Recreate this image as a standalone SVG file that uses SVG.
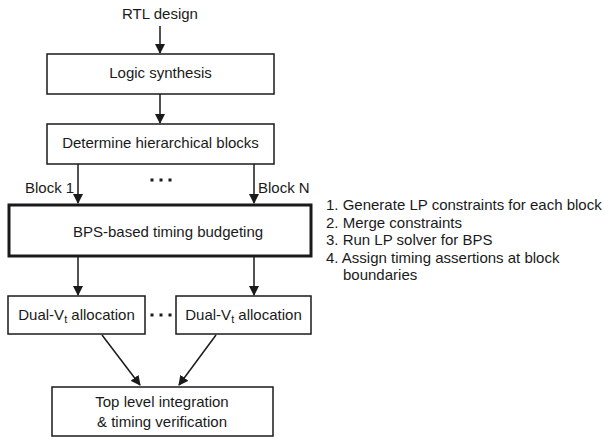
<svg xmlns="http://www.w3.org/2000/svg" width="604" height="439" viewBox="0 0 604 439">
  <style>
    text { font-family: "Liberation Sans", Arial, sans-serif; font-size: 15px; fill: #1a1a1a; }
    .c { text-anchor: middle; }
    .box { fill: #fff; stroke: #1a1a1a; stroke-width: 1.5; }
    .thick { fill: #fff; stroke: #1a1a1a; stroke-width: 3; }
    .edge { stroke: #1a1a1a; stroke-width: 1.5; fill: none; marker-end: url(#ah); }
    .dot { fill: #1a1a1a; }
  </style>
  <defs>
    <marker id="ah" markerWidth="10" markerHeight="10" refX="9" refY="5" orient="auto" markerUnits="userSpaceOnUse">
      <path d="M0,0 L10,5 L0,10 Z" fill="#1a1a1a"/>
    </marker>
  </defs>

  <g id="connectors">
    <line class="edge" x1="160" y1="26" x2="160" y2="53"/>
    <line class="edge" x1="160" y1="94" x2="160" y2="123"/>
    <line class="edge" x1="78" y1="164" x2="78" y2="203"/>
    <line class="edge" x1="254" y1="164" x2="254" y2="203"/>
    <line class="edge" x1="78" y1="256" x2="78" y2="295"/>
    <line class="edge" x1="254" y1="256" x2="254" y2="295"/>
    <line class="edge" x1="102" y1="335" x2="140" y2="385"/>
    <line class="edge" x1="216" y1="335" x2="179" y2="385"/>
  </g>

  <g id="rtl">
    <text class="c" x="160" y="19">RTL design</text>
  </g>

  <g id="logic-synthesis">
    <rect class="box" x="47" y="54" width="227" height="40"/>
    <text class="c" x="160.5" y="78">Logic synthesis</text>
  </g>

  <g id="hier-blocks">
    <rect class="box" x="47" y="124" width="227" height="40"/>
    <text class="c" x="160.5" y="148">Determine hierarchical blocks</text>
  </g>

  <g id="block-labels">
    <text x="25" y="193">Block 1</text>
    <text x="258" y="193">Block N</text>
    <rect class="dot" x="150.5" y="178.5" width="3" height="3"/>
    <rect class="dot" x="159.5" y="178.5" width="3" height="3"/>
    <rect class="dot" x="168.5" y="178.5" width="3" height="3"/>
  </g>

  <g id="bps-budgeting">
    <rect class="thick" x="9" y="205" width="302" height="51"/>
    <text class="c" x="168" y="237">BPS-based timing budgeting</text>
  </g>

  <g id="bps-steps">
    <text x="326" y="210">1. Generate LP constraints for each block</text>
    <text x="326" y="227.5">2. Merge constraints</text>
    <text x="326" y="245">3. Run LP solver for BPS</text>
    <text x="326" y="262.5">4. Assign timing assertions at block</text>
    <text x="343" y="280">boundaries</text>
  </g>

  <g id="dualvt-1">
    <rect class="box" x="8" y="296" width="137" height="38"/>
    <text class="c" x="76.5" y="320">Dual-V<tspan font-size="11" dy="3">t</tspan><tspan dy="-3"> allocation</tspan></text>
  </g>

  <g id="dualvt-dots">
    <rect class="dot" x="150.5" y="313.5" width="3" height="3"/>
    <rect class="dot" x="159.5" y="313.5" width="3" height="3"/>
    <rect class="dot" x="168.5" y="313.5" width="3" height="3"/>
  </g>

  <g id="dualvt-n">
    <rect class="box" x="176" y="296" width="135" height="38"/>
    <text class="c" x="243.5" y="320">Dual-V<tspan font-size="11" dy="3">t</tspan><tspan dy="-3"> allocation</tspan></text>
  </g>

  <g id="top-level">
    <rect class="box" x="52" y="387" width="221" height="49"/>
    <text class="c" x="162" y="407">Top level integration</text>
    <text class="c" x="162" y="427">&amp; timing verification</text>
  </g>
</svg>
